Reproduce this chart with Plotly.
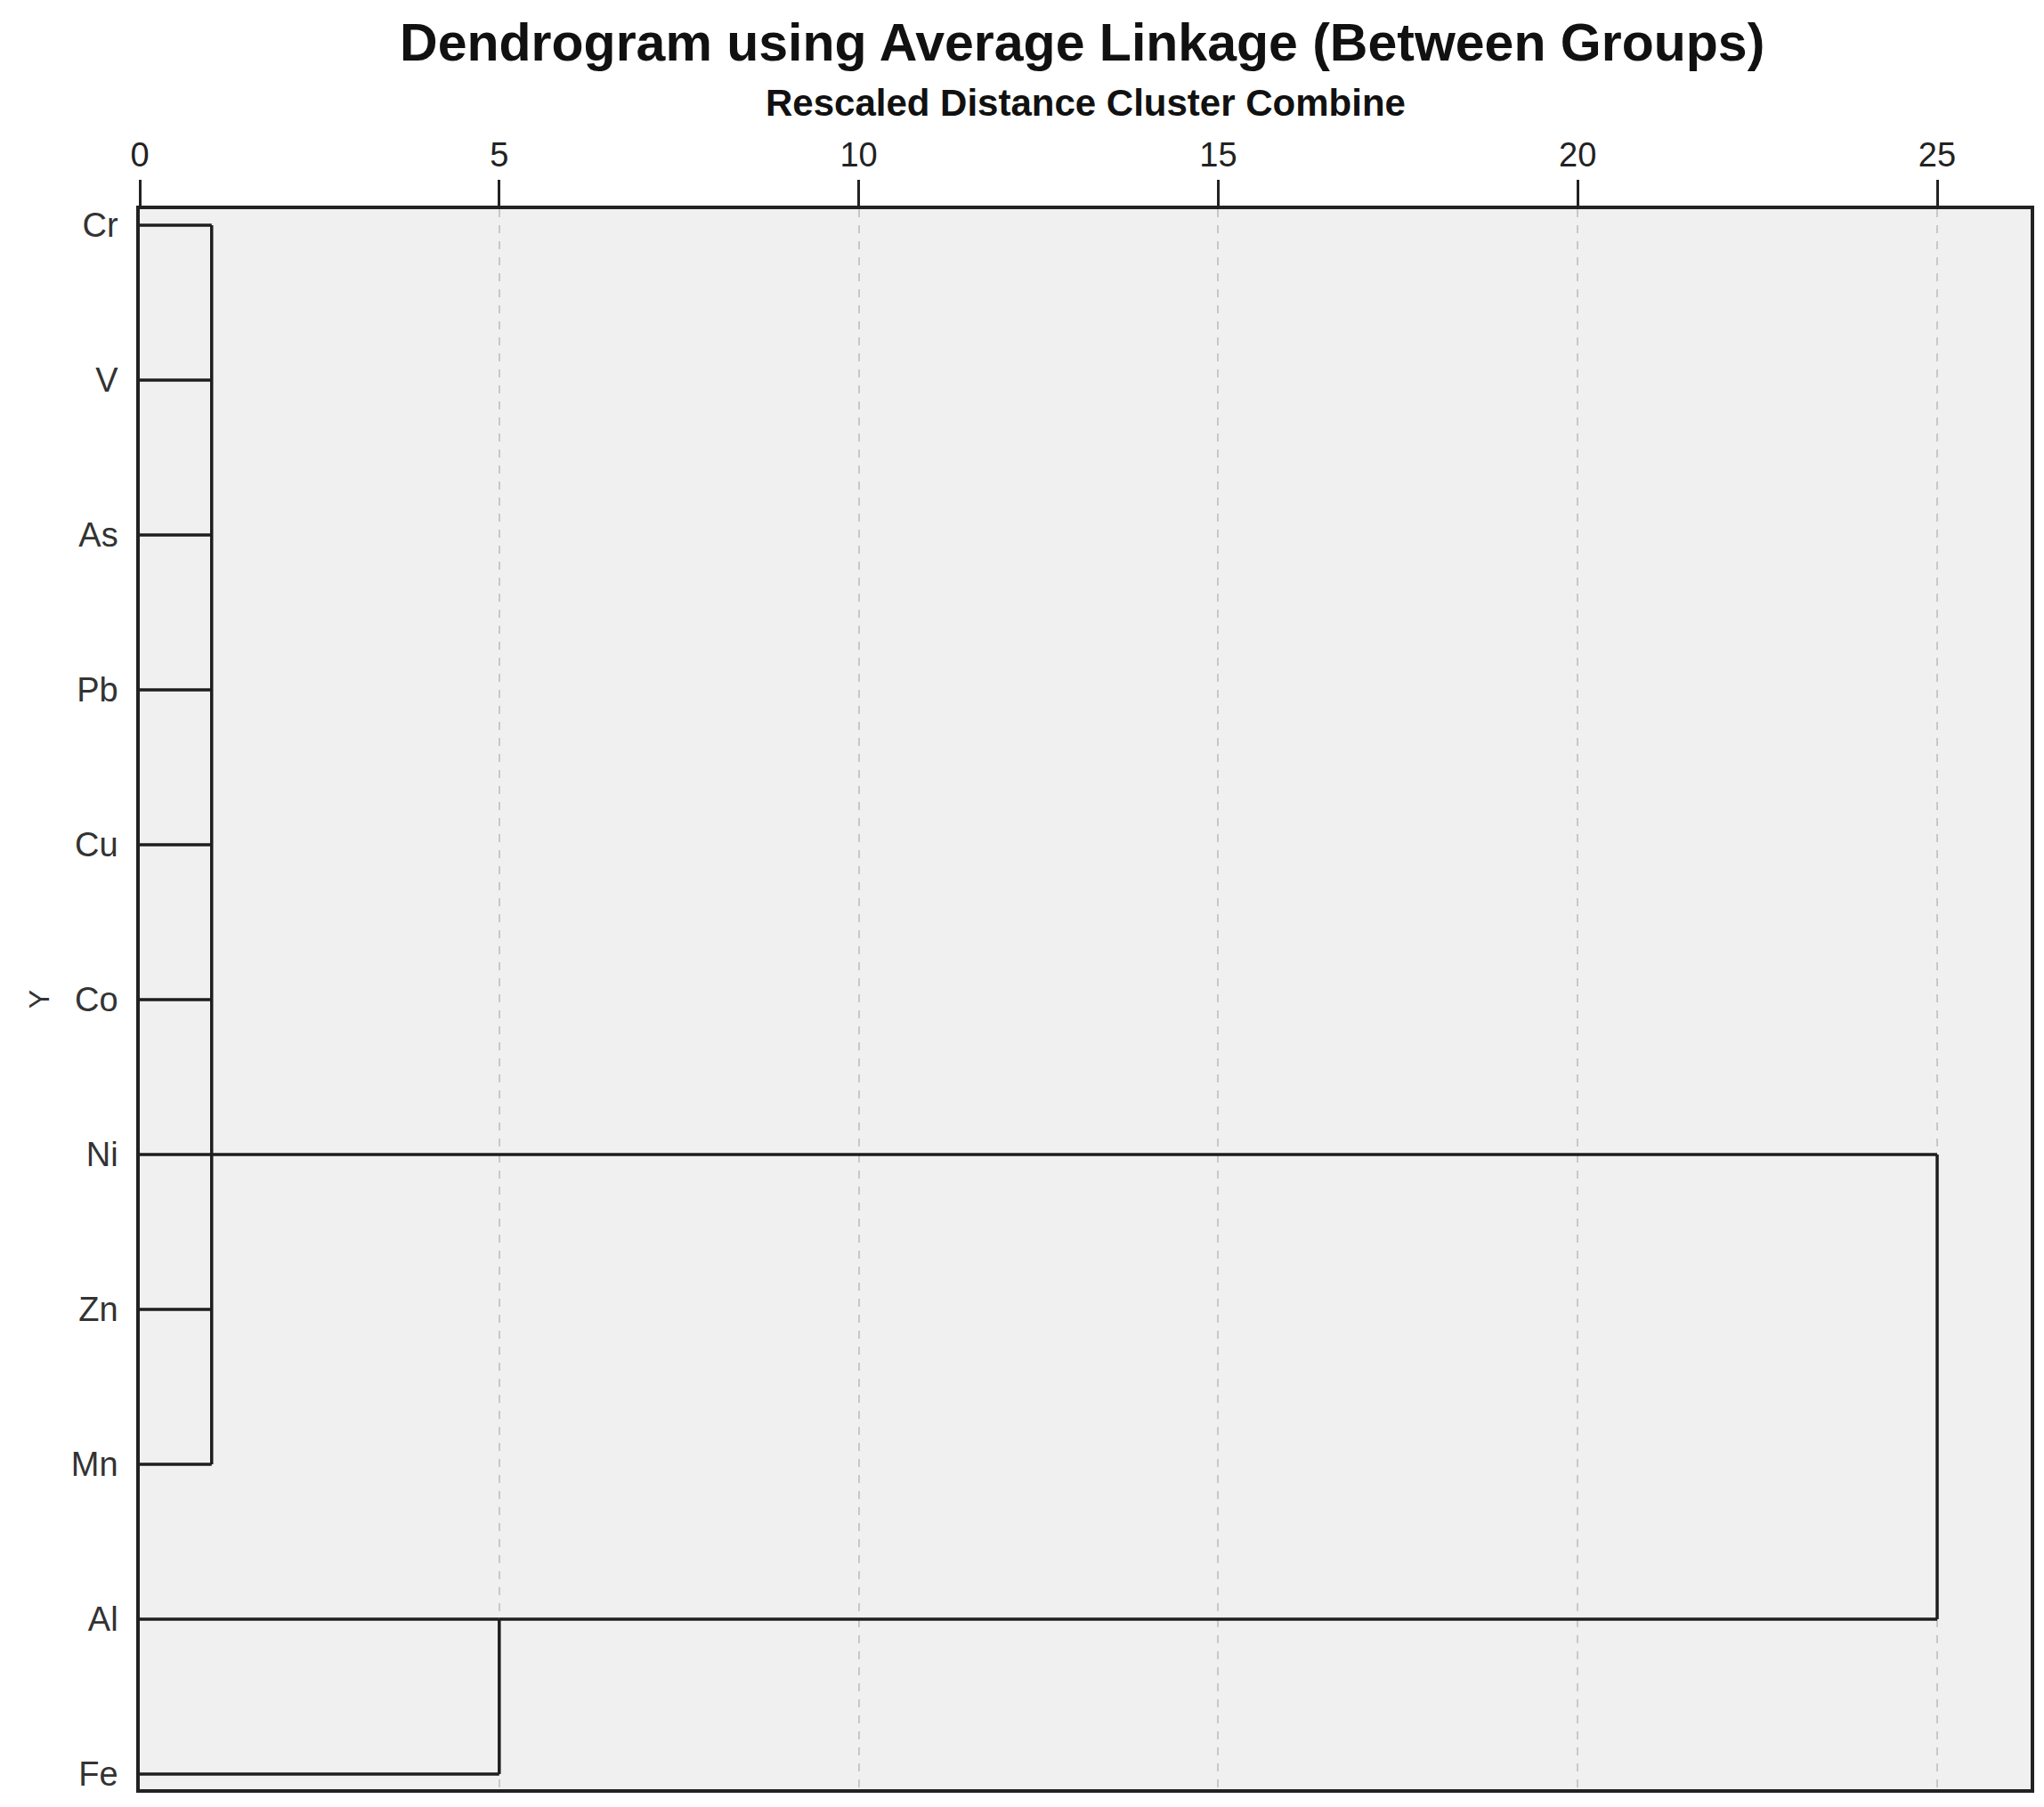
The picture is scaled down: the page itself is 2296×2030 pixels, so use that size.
import plotly.graph_objects as go

# leaves in dendrogram order (top to bottom)
leaves = ["Cr", "V", "As", "Pb", "Cu", "Co", "Ni", "Zn", "Mn", "Al", "Fe"]

# first-level clusters: members, rescaled join distance, row where the cluster line leaves
cluster_members = [
    ["Cr", "V", "As", "Pb", "Cu", "Co", "Ni", "Zn", "Mn"],
    ["Al", "Fe"],
]
cluster_dist = [1, 5]
cluster_anchor = ["Ni", "Al"]
root_dist = 25

x_ticks = [0, 5, 10, 15, 20, 25]

row = {name: i for i, name in enumerate(leaves)}

xs, ys = [], []


def seg(x0, y0, x1, y1):
    xs.extend([x0, x1, None])
    ys.extend([y0, y1, None])


for members, d, anchor in zip(cluster_members, cluster_dist, cluster_anchor):
    for m in members:
        seg(0, row[m], d, row[m])
    seg(d, row[members[0]], d, row[members[-1]])
    seg(d, row[anchor], root_dist, row[anchor])
seg(root_dist, row[cluster_anchor[0]], root_dist, row[cluster_anchor[1]])

fig = go.Figure()
fig.add_trace(go.Scatter(x=xs, y=ys, mode="lines",
                         line=dict(color="#1e1e1e", width=3.5),
                         hoverinfo="skip", showlegend=False))

font_family = "Liberation Sans, Arial, sans-serif"
H = 2030
top, bottom = 227, 28
plot_h = H - top - bottom

fig.update_layout(
    width=2296, height=H,
    margin=dict(l=149, r=23, t=top, b=bottom),
    paper_bgcolor="white",
    plot_bgcolor="#f0f0f0",
    font=dict(family=font_family, color="#222"),
    title=dict(text="<b>Dendrogram using Average Linkage (Between Groups)</b>",
               x=0.526, xanchor="center", y=1 - 39 / H, yanchor="middle",
               font=dict(size=59, color="#111")),
    showlegend=False,
)

fig.add_annotation(
    text="<b>Rescaled Distance Cluster Combine</b>",
    xref="paper", yref="paper", x=0.5, y=1 + (top - 107) / plot_h,
    xanchor="center", yanchor="middle", showarrow=False,
    font=dict(size=42, color="#111"),
)

fig.update_xaxes(
    side="top", range=[0, 26.3], tickvals=x_ticks,
    ticks="outside", ticklen=29, tickwidth=3, tickcolor="#222",
    tickfont=dict(size=38, color="#222"), ticklabelstandoff=0,
    showgrid=True, gridcolor="#c8c8c8", griddash="dash", gridwidth=2,
    zeroline=False, showline=True, linecolor="#222", linewidth=3.5, mirror=True,
    automargin=False,
)

fig.update_yaxes(
    range=[10.098, -0.103], tickvals=list(range(len(leaves))), ticktext=leaves,
    ticks="", ticklabelstandoff=13,
    tickfont=dict(size=38, color="#333"),
    showgrid=False, zeroline=False,
    showline=True, linecolor="#222", linewidth=3.5, mirror=True,
    title=dict(text="Y", font=dict(size=32, color="#333"), standoff=16),
    automargin=False,
)

fig.write_html("out.html")
